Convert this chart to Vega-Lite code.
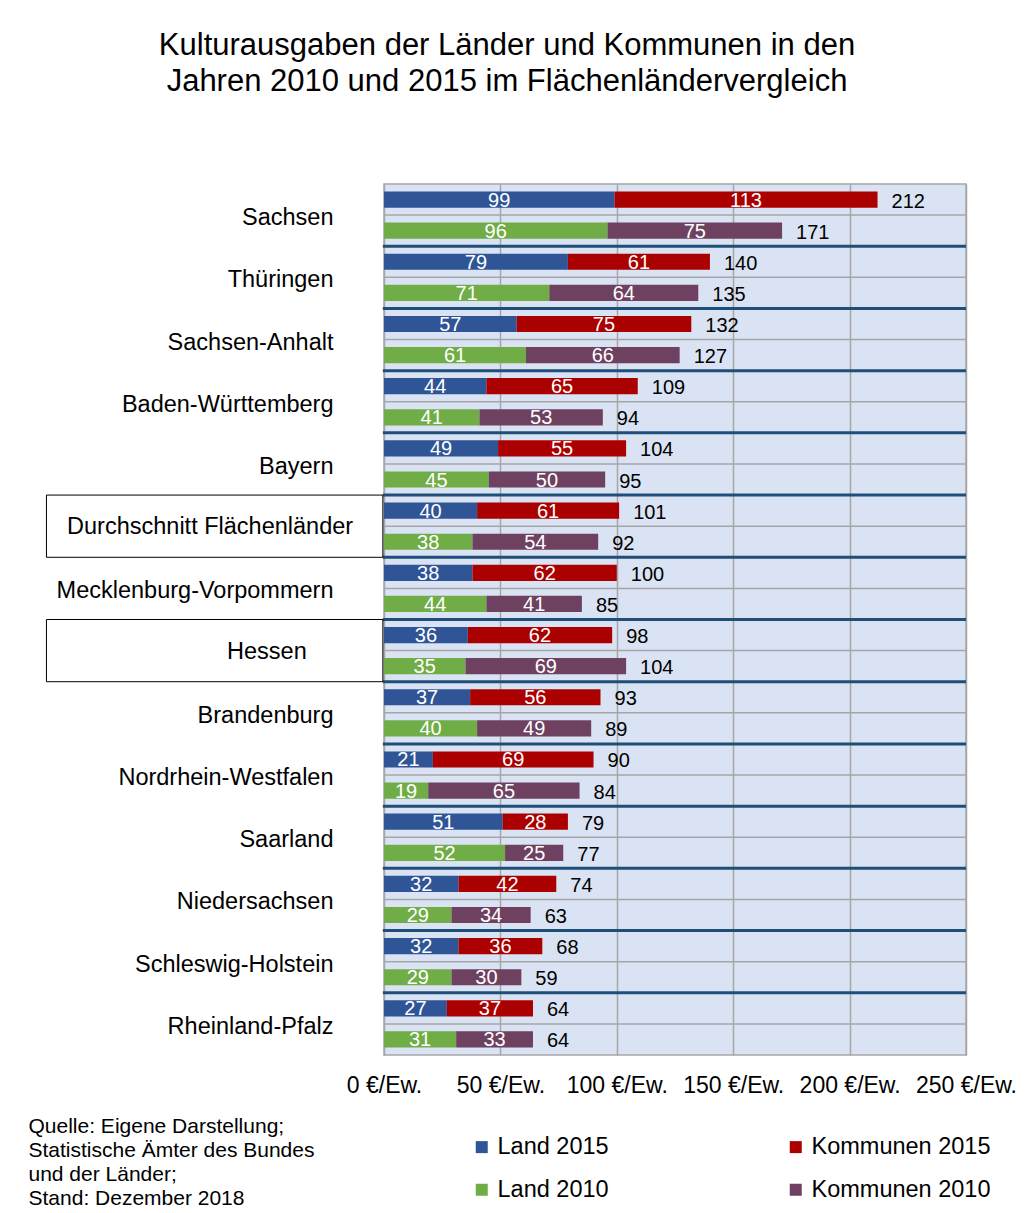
{
  "$schema": "https://vega.github.io/schema/vega-lite/v6.json",
  "autosize": "none",
  "width": 582,
  "height": 871,
  "padding": {"left": 384, "top": 184, "right": 60, "bottom": 158},
  "background": "white",
  "title": {
    "text": ["Kulturausgaben der Länder und Kommunen in den", "Jahren 2010 und 2015 im Flächenländervergleich"],
    "fontSize": 31,
    "fontWeight": "normal",
    "font": "Liberation Sans",
    "color": "black",
    "anchor": "middle",
    "frame": "group",
    "dx": -168,
    "offset": 86,
    "lineHeight": 36
  },
  "config": {
    "font": "Liberation Sans",
    "view": {"fill": "#DAE3F3", "stroke": "#A6A6A6", "strokeWidth": 1.5}
  },
  "datasets": {
    "groups": [
      {"group": "Sachsen"},
      {"group": "Thüringen"},
      {"group": "Sachsen-Anhalt"},
      {"group": "Baden-Württemberg"},
      {"group": "Bayern"},
      {"group": "Durchschnitt Flächenländer"},
      {"group": "Mecklenburg-Vorpommern"},
      {"group": "Hessen"},
      {"group": "Brandenburg"},
      {"group": "Nordrhein-Westfalen"},
      {"group": "Saarland"},
      {"group": "Niedersachsen"},
      {"group": "Schleswig-Holstein"},
      {"group": "Rheinland-Pfalz"}
    ],
    "vals": [
      {"group": "Sachsen", "year": "2015", "part": "Land", "series": "Land 2015", "value": 99},
      {"group": "Sachsen", "year": "2015", "part": "Kommunen", "series": "Kommunen 2015", "value": 113},
      {"group": "Sachsen", "year": "2010", "part": "Land", "series": "Land 2010", "value": 96},
      {"group": "Sachsen", "year": "2010", "part": "Kommunen", "series": "Kommunen 2010", "value": 75},
      {"group": "Thüringen", "year": "2015", "part": "Land", "series": "Land 2015", "value": 79},
      {"group": "Thüringen", "year": "2015", "part": "Kommunen", "series": "Kommunen 2015", "value": 61},
      {"group": "Thüringen", "year": "2010", "part": "Land", "series": "Land 2010", "value": 71},
      {"group": "Thüringen", "year": "2010", "part": "Kommunen", "series": "Kommunen 2010", "value": 64},
      {"group": "Sachsen-Anhalt", "year": "2015", "part": "Land", "series": "Land 2015", "value": 57},
      {"group": "Sachsen-Anhalt", "year": "2015", "part": "Kommunen", "series": "Kommunen 2015", "value": 75},
      {"group": "Sachsen-Anhalt", "year": "2010", "part": "Land", "series": "Land 2010", "value": 61},
      {"group": "Sachsen-Anhalt", "year": "2010", "part": "Kommunen", "series": "Kommunen 2010", "value": 66},
      {"group": "Baden-Württemberg", "year": "2015", "part": "Land", "series": "Land 2015", "value": 44},
      {"group": "Baden-Württemberg", "year": "2015", "part": "Kommunen", "series": "Kommunen 2015", "value": 65},
      {"group": "Baden-Württemberg", "year": "2010", "part": "Land", "series": "Land 2010", "value": 41},
      {"group": "Baden-Württemberg", "year": "2010", "part": "Kommunen", "series": "Kommunen 2010", "value": 53},
      {"group": "Bayern", "year": "2015", "part": "Land", "series": "Land 2015", "value": 49},
      {"group": "Bayern", "year": "2015", "part": "Kommunen", "series": "Kommunen 2015", "value": 55},
      {"group": "Bayern", "year": "2010", "part": "Land", "series": "Land 2010", "value": 45},
      {"group": "Bayern", "year": "2010", "part": "Kommunen", "series": "Kommunen 2010", "value": 50},
      {"group": "Durchschnitt Flächenländer", "year": "2015", "part": "Land", "series": "Land 2015", "value": 40},
      {"group": "Durchschnitt Flächenländer", "year": "2015", "part": "Kommunen", "series": "Kommunen 2015", "value": 61},
      {"group": "Durchschnitt Flächenländer", "year": "2010", "part": "Land", "series": "Land 2010", "value": 38},
      {"group": "Durchschnitt Flächenländer", "year": "2010", "part": "Kommunen", "series": "Kommunen 2010", "value": 54},
      {"group": "Mecklenburg-Vorpommern", "year": "2015", "part": "Land", "series": "Land 2015", "value": 38},
      {"group": "Mecklenburg-Vorpommern", "year": "2015", "part": "Kommunen", "series": "Kommunen 2015", "value": 62},
      {"group": "Mecklenburg-Vorpommern", "year": "2010", "part": "Land", "series": "Land 2010", "value": 44},
      {"group": "Mecklenburg-Vorpommern", "year": "2010", "part": "Kommunen", "series": "Kommunen 2010", "value": 41},
      {"group": "Hessen", "year": "2015", "part": "Land", "series": "Land 2015", "value": 36},
      {"group": "Hessen", "year": "2015", "part": "Kommunen", "series": "Kommunen 2015", "value": 62},
      {"group": "Hessen", "year": "2010", "part": "Land", "series": "Land 2010", "value": 35},
      {"group": "Hessen", "year": "2010", "part": "Kommunen", "series": "Kommunen 2010", "value": 69},
      {"group": "Brandenburg", "year": "2015", "part": "Land", "series": "Land 2015", "value": 37},
      {"group": "Brandenburg", "year": "2015", "part": "Kommunen", "series": "Kommunen 2015", "value": 56},
      {"group": "Brandenburg", "year": "2010", "part": "Land", "series": "Land 2010", "value": 40},
      {"group": "Brandenburg", "year": "2010", "part": "Kommunen", "series": "Kommunen 2010", "value": 49},
      {"group": "Nordrhein-Westfalen", "year": "2015", "part": "Land", "series": "Land 2015", "value": 21},
      {"group": "Nordrhein-Westfalen", "year": "2015", "part": "Kommunen", "series": "Kommunen 2015", "value": 69},
      {"group": "Nordrhein-Westfalen", "year": "2010", "part": "Land", "series": "Land 2010", "value": 19},
      {"group": "Nordrhein-Westfalen", "year": "2010", "part": "Kommunen", "series": "Kommunen 2010", "value": 65},
      {"group": "Saarland", "year": "2015", "part": "Land", "series": "Land 2015", "value": 51},
      {"group": "Saarland", "year": "2015", "part": "Kommunen", "series": "Kommunen 2015", "value": 28},
      {"group": "Saarland", "year": "2010", "part": "Land", "series": "Land 2010", "value": 52},
      {"group": "Saarland", "year": "2010", "part": "Kommunen", "series": "Kommunen 2010", "value": 25},
      {"group": "Niedersachsen", "year": "2015", "part": "Land", "series": "Land 2015", "value": 32},
      {"group": "Niedersachsen", "year": "2015", "part": "Kommunen", "series": "Kommunen 2015", "value": 42},
      {"group": "Niedersachsen", "year": "2010", "part": "Land", "series": "Land 2010", "value": 29},
      {"group": "Niedersachsen", "year": "2010", "part": "Kommunen", "series": "Kommunen 2010", "value": 34},
      {"group": "Schleswig-Holstein", "year": "2015", "part": "Land", "series": "Land 2015", "value": 32},
      {"group": "Schleswig-Holstein", "year": "2015", "part": "Kommunen", "series": "Kommunen 2015", "value": 36},
      {"group": "Schleswig-Holstein", "year": "2010", "part": "Land", "series": "Land 2010", "value": 29},
      {"group": "Schleswig-Holstein", "year": "2010", "part": "Kommunen", "series": "Kommunen 2010", "value": 30},
      {"group": "Rheinland-Pfalz", "year": "2015", "part": "Land", "series": "Land 2015", "value": 27},
      {"group": "Rheinland-Pfalz", "year": "2015", "part": "Kommunen", "series": "Kommunen 2015", "value": 37},
      {"group": "Rheinland-Pfalz", "year": "2010", "part": "Land", "series": "Land 2010", "value": 31},
      {"group": "Rheinland-Pfalz", "year": "2010", "part": "Kommunen", "series": "Kommunen 2010", "value": 33}
    ]
  },
  "layer": [
    {
      "data": {"name": "groups"},
      "mark": {"type": "rule", "color": "#A6A6A6", "strokeWidth": 1.5},
      "encoding": {
        "y": {"field": "group", "type": "nominal", "bandPosition": 0.5},
        "x": {"datum": 0, "type": "quantitative", "scale": {"domain": [0, 250], "nice": false}},
        "x2": {"datum": 250}
      }
    },
    {
      "data": {"name": "groups"},
      "transform": [{"filter": "datum.group != 'Sachsen'"}],
      "mark": {"type": "rule", "color": "#1F4E79", "strokeWidth": 3},
      "encoding": {
        "y": {"field": "group", "type": "nominal", "bandPosition": 0},
        "x": {"datum": -0.5, "type": "quantitative", "scale": {"domain": [0, 250], "nice": false}},
        "x2": {"datum": 250}
      }
    },
    {
      "data": {"name": "vals"},
      "mark": {"type": "bar"},
      "encoding": {
        "y": {
          "field": "group", "type": "nominal",
          "scale": {"domain": ["Sachsen", "Thüringen", "Sachsen-Anhalt", "Baden-Württemberg", "Bayern", "Durchschnitt Flächenländer", "Mecklenburg-Vorpommern", "Hessen", "Brandenburg", "Nordrhein-Westfalen", "Saarland", "Niedersachsen", "Schleswig-Holstein", "Rheinland-Pfalz"], "paddingInner": 0, "paddingOuter": 0},
          "axis": {
            "title": null, "ticks": false, "domain": false, "grid": false,
            "labelExpr": "datum.value == 'Durchschnitt Flächenländer' || datum.value == 'Hessen' ? '' : datum.value",
            "labelAlign": "right", "labelBaseline": "middle", "labelPadding": 51, "labelOffset": 3,
            "labelFontSize": 23.5, "labelColor": "black", "labelFont": "Liberation Sans", "labelLimit": 400
          }
        },
        "yOffset": {"field": "year", "type": "nominal", "scale": {"domain": ["2015", "2010"], "paddingInner": 0.48, "paddingOuter": 0.24}},
        "x": {
          "field": "value", "type": "quantitative", "stack": "zero",
          "scale": {"domain": [0, 250], "nice": false},
          "axis": {
            "values": [0, 50, 100, 150, 200, 250],
            "grid": true, "gridColor": "#A6A6A6", "gridWidth": 1.5,
            "ticks": false, "domain": false,
            "labelExpr": "datum.value + ' €/Ew.'",
            "labelFontSize": 23, "labelColor": "black", "labelPadding": 19,
            "labelOverlap": false, "labelFlush": false, "labelBound": false, "labelFont": "Liberation Sans",
            "title": ["Quelle: Eigene Darstellung;", "Statistische Ämter des Bundes", "und der Länder;", "Stand: Dezember 2018"],
            "titleX": -356, "titleY": 60, "titleAlign": "left", "titleBaseline": "top", "titleAngle": 0,
            "titleFontSize": 21, "titleFontWeight": "normal", "titleLineHeight": 24, "titleColor": "black", "titleFont": "Liberation Sans"
          }
        },
        "color": {
          "field": "series", "type": "nominal",
          "scale": {"domain": ["Land 2015", "Kommunen 2015", "Land 2010", "Kommunen 2010"], "range": ["#2F5597", "#AA0000", "#70AD47", "#6E4160"]},
          "legend": {
            "title": null, "orient": "none", "legendX": 86, "legendY": 951, "direction": "horizontal",
            "columns": 2, "columnPadding": 175, "rowPadding": 18, "padding": 0,
            "symbolType": "square", "symbolSize": 144, "symbolStrokeWidth": 0, "symbolOpacity": 1,
            "labelFontSize": 23.5, "labelColor": "black", "labelOffset": 4, "labelFont": "Liberation Sans", "labelLimit": 300
          }
        },
        "order": {"field": "part", "sort": "descending"}
      }
    },
    {
      "data": {"name": "vals"},
      "mark": {"type": "text", "color": "white", "fontSize": 20, "baseline": "middle", "align": "center", "dy": 1},
      "encoding": {
        "y": {"field": "group", "type": "nominal"},
        "yOffset": {"field": "year", "type": "nominal", "scale": {"domain": ["2015", "2010"], "paddingInner": 0.48, "paddingOuter": 0.24}},
        "x": {"field": "value", "type": "quantitative", "stack": "zero", "bandPosition": 0.5, "scale": {"domain": [0, 250], "nice": false}},
        "detail": {"field": "part"},
        "order": {"field": "part", "sort": "descending"},
        "text": {"field": "value", "type": "quantitative"}
      }
    },
    {
      "data": {"name": "vals"},
      "transform": [{"aggregate": [{"op": "sum", "field": "value", "as": "total"}], "groupby": ["group", "year"]}],
      "mark": {"type": "text", "color": "black", "fontSize": 20, "baseline": "middle", "align": "left", "dx": 14, "dy": 2},
      "encoding": {
        "y": {"field": "group", "type": "nominal"},
        "yOffset": {"field": "year", "type": "nominal", "scale": {"domain": ["2015", "2010"], "paddingInner": 0.48, "paddingOuter": 0.24}},
        "x": {"field": "total", "type": "quantitative", "scale": {"domain": [0, 250], "nice": false}},
        "text": {"field": "total", "type": "quantitative"}
      }
    },
    {
      "data": {"name": "groups"},
      "transform": [{"filter": "datum.group == 'Durchschnitt Flächenländer' || datum.group == 'Hessen'"}],
      "mark": {"type": "rect", "fill": "transparent", "stroke": "black", "strokeWidth": 1},
      "encoding": {
        "y": {"field": "group", "type": "nominal"},
        "x": {"datum": -145, "type": "quantitative", "scale": {"domain": [0, 250], "nice": false}},
        "x2": {"datum": -0.5}
      }
    },
    {
      "data": {"name": "groups"},
      "transform": [{"filter": "datum.group == 'Durchschnitt Flächenländer'"}],
      "mark": {"type": "text", "color": "black", "fontSize": 23.5, "baseline": "middle", "align": "center", "dy": 1},
      "encoding": {
        "y": {"field": "group", "type": "nominal"},
        "x": {"datum": -74.7, "type": "quantitative", "scale": {"domain": [0, 250], "nice": false}},
        "text": {"field": "group"}
      }
    },
    {
      "data": {"name": "groups"},
      "transform": [{"filter": "datum.group == 'Hessen'"}],
      "mark": {"type": "text", "color": "black", "fontSize": 23.5, "baseline": "middle", "align": "center", "dy": 1},
      "encoding": {
        "y": {"field": "group", "type": "nominal"},
        "x": {"datum": -50.3, "type": "quantitative", "scale": {"domain": [0, 250], "nice": false}},
        "text": {"field": "group"}
      }
    }
  ]
}
